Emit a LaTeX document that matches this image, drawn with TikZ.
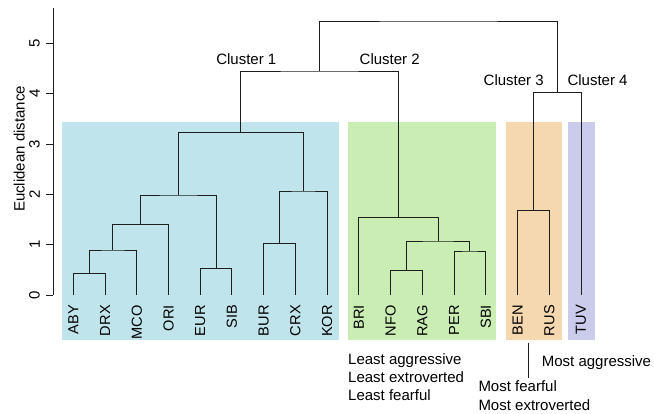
\documentclass[tikz,border=0pt]{standalone}
\usepackage{fontspec}
\setmainfont{Liberation Sans}
\definecolor{blueBG}{RGB}{191,228,236}
\definecolor{greenBG}{RGB}{201,237,178}
\definecolor{orangeBG}{RGB}{246,216,176}
\definecolor{purpleBG}{RGB}{203,203,235}
\definecolor{lineC}{RGB}{30,30,30}
\begin{document}
\begin{tikzpicture}[x=1pt,y=-1pt,
  dendro/.style={draw=lineC,line width=0.95pt,line cap=rect},
  axisline/.style={draw=lineC,line width=0.9pt},
  leaf/.style={rotate=90,anchor=east,inner sep=0pt,font=\fontsize{14.6}{17}\selectfont},
  txt/.style={inner sep=0pt,font=\fontsize{15}{18}\selectfont},
  ticklab/.style={rotate=90,anchor=south,inner sep=0pt,font=\fontsize{15}{18}\selectfont}]
\useasboundingbox (0,0) rectangle (654,414);
% backgrounds
\fill[blueBG] (62,122) rectangle (339,340);
\fill[greenBG] (348,122) rectangle (496,340);
\fill[orangeBG] (506,122) rectangle (562,340);
\fill[purpleBG] (568,122) rectangle (595,340);
% axis
\coordinate (ax-bot) at (53,295);
\coordinate (ax-top) at (53,8);
\draw[axisline] (ax-bot) -- (ax-top);
\foreach \k in {0,...,5} {
  \coordinate (tk\k) at (53,{295-50.3*\k});
  \coordinate (tl\k) at (46,{295-50.3*\k});
  \draw[axisline] (tk\k) -- (tl\k);
  \node[ticklab] (lab\k) at (40,{295-50.3*\k}) {\k};
}
\node[ticklab] (ylab) at (25,149) {Euclidean distance};
% leaves
\foreach \n [count=\i from 0] in {ABY,DRX,MCO,ORI,EUR,SIB,BUR,CRX,KOR,BRI,NFO,RAG,PER,SBI,BEN,RUS,TUV} {
  \node[leaf] (\n) at ({73.30+31.73*\i},305) {\n};
  \coordinate (\n-t) at ({73.30+31.73*\i},295);
}
% merge points
\coordinate (a) at (89.17,273.3);
\coordinate (b) at (112.96,250);
\coordinate (c) at (140.73,224.3);
\coordinate (d) at (216.09,268.3);
\coordinate (e) at (178.41,195);
\coordinate (f) at (279.55,243.3);
\coordinate (g) at (303.34,191);
\coordinate (C1) at (240.88,132.3);
\coordinate (h) at (406.47,270.7);
\coordinate (i) at (469.93,251);
\coordinate (j) at (438.20,241);
\coordinate (C2) at (398.54,217.7);
\coordinate (C12) at (319.71,71);
\coordinate (C3) at (533.39,210.3);
\coordinate (C34) at (557.19,92.7);
\coordinate (root) at (438.45,21);
% dendrogram
\draw[dendro] (ABY-t) |- (a) -| (DRX-t);
\draw[dendro] (a) |- (b) -| (MCO-t);
\draw[dendro] (b) |- (c) -| (ORI-t);
\draw[dendro] (EUR-t) |- (d) -| (SIB-t);
\draw[dendro] (c) |- (e) -| (d);
\draw[dendro] (BUR-t) |- (f) -| (CRX-t);
\draw[dendro] (f) |- (g) -| (KOR-t);
\draw[dendro] (e) |- (C1) -| (g);
\draw[dendro] (NFO-t) |- (h) -| (RAG-t);
\draw[dendro] (PER-t) |- (i) -| (SBI-t);
\draw[dendro] (h) |- (j) -| (i);
\draw[dendro] (BRI-t) |- (C2) -| (j);
\draw[dendro] (C1) |- (C12) -| (C2);
\draw[dendro] (BEN-t) |- (C3) -| (RUS-t);
\draw[dendro] (C3) |- (C34) -| (TUV-t);
\draw[dendro] (C12) |- (root) -| (C34);
% cluster labels
\node[txt,anchor=base] (cl1) at (246.3,65) {Cluster 1};
\node[txt,anchor=base] (cl2) at (389.7,65) {Cluster 2};
\node[txt,anchor=base] (cl3) at (513.7,86) {Cluster 3};
\node[txt,anchor=base west] (cl4) at (567.3,86) {Cluster 4};
% bottom annotations
\node[txt,anchor=base west] (la1) at (348,364) {Least aggressive};
\node[txt,anchor=base west] (la2) at (348,382) {Least extroverted};
\node[txt,anchor=base west] (la3) at (348,400) {Least fearful};
\node[txt,anchor=base west] (ma) at (541.7,366.7) {Most aggressive};
\node[txt,anchor=base west] (mf) at (478.3,391.7) {Most fearful};
\node[txt,anchor=base west] (me) at (478.3,410) {Most extroverted};
\coordinate (fl-top) at (528.3,342.7);
\coordinate (fl-bot) at (528.3,378.3);
\draw[line width=0.9pt,draw=lineC] (fl-top) -- (fl-bot);
\end{tikzpicture}
\end{document}
